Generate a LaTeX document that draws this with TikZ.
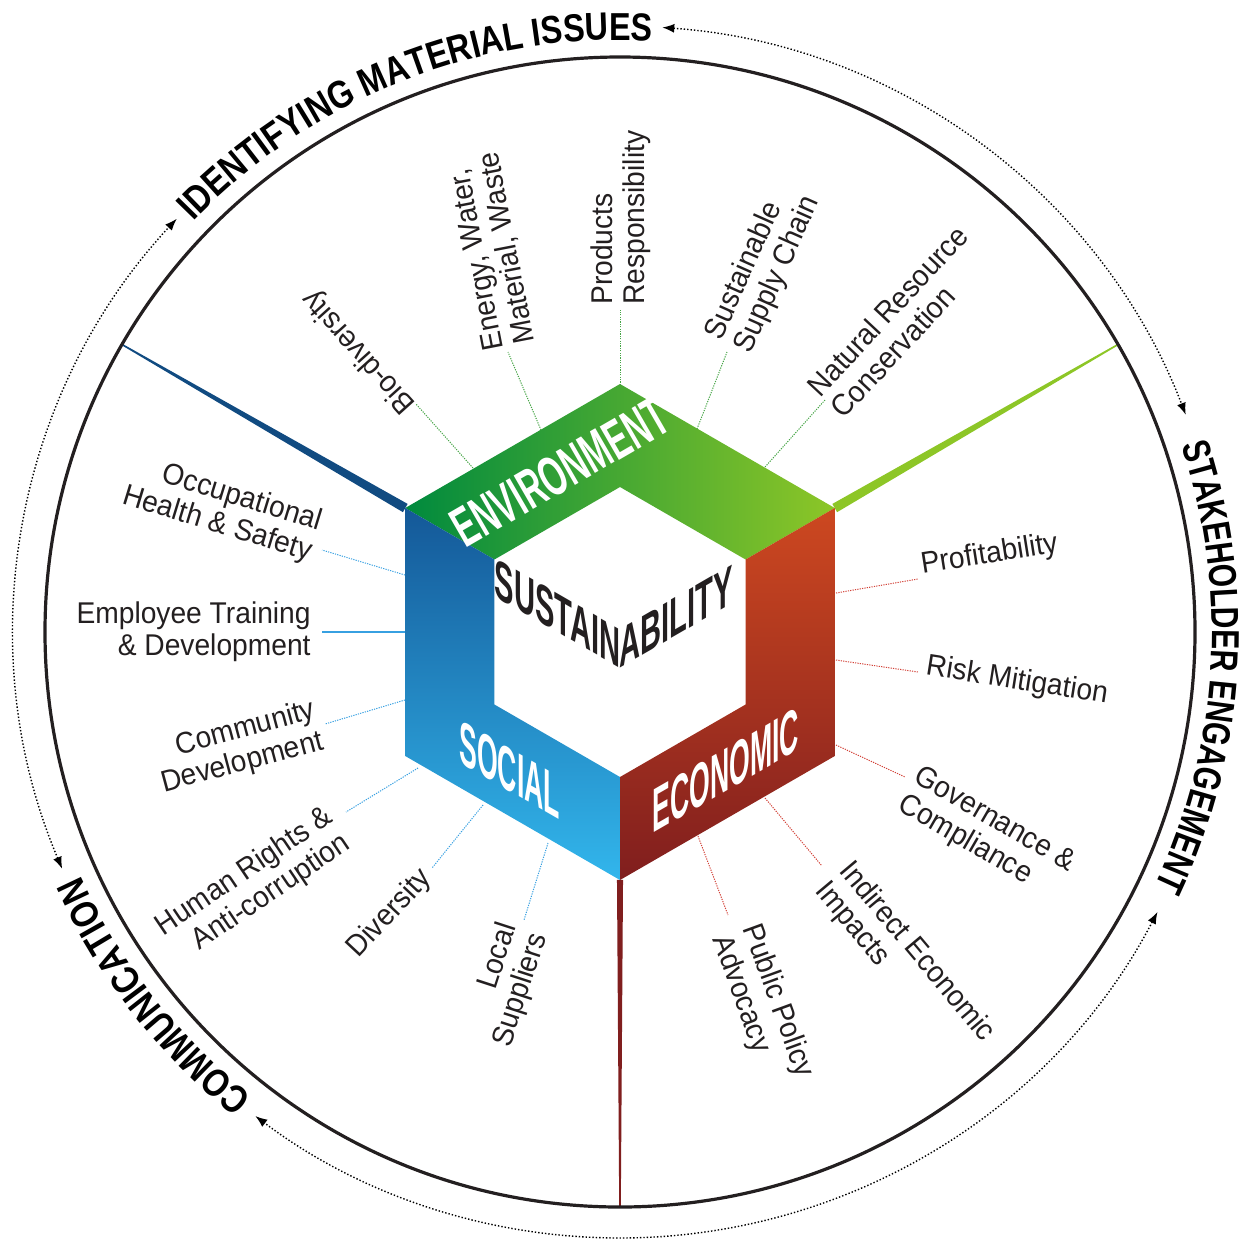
\documentclass[tikz,border=0pt]{standalone}
\usepackage{fontspec}
\setmainfont{Liberation Sans}
\newfontfamily\labfont{Liberation Sans}[FakeStretch=0.94]
\newfontfamily\hexfont{Liberation Sans}[FakeStretch=0.43]
\newfontfamily\susfont{Liberation Sans}[FakeStretch=0.52]
\newfontfamily\envfont{Liberation Sans}[FakeStretch=0.58]
\newfontfamily\arcfont{Liberation Sans}[FakeStretch=0.83]
\newfontfamily\arcfontb{Liberation Sans}[FakeStretch=0.77]
\usetikzlibrary{arrows.meta,decorations.text}

\definecolor{gdark}{RGB}{0,138,62}
\definecolor{glight}{RGB}{141,198,39}
\definecolor{bdark}{RGB}{20,88,152}
\definecolor{blight}{RGB}{50,182,236}
\definecolor{rtop}{RGB}{205,72,32}
\definecolor{rbot}{RGB}{128,30,30}
\definecolor{gline}{RGB}{70,165,70}
\definecolor{bline}{RGB}{55,160,225}
\definecolor{rline}{RGB}{210,65,55}
\definecolor{ink}{RGB}{35,31,32}

\tikzset{
 lab/.style={font=\labfont\fontsize{15}{16}\selectfont, text=ink, inner sep=0pt},
 labL/.style={lab, anchor=east, align=right},
 labR/.style={lab, anchor=west, align=left},
 gleader/.style={gline, line width=0.5pt, dash pattern=on 0.6pt off 0.6pt},
 bleader/.style={bline, line width=0.5pt, dash pattern=on 0.6pt off 0.6pt},
 rleader/.style={rline, line width=0.5pt, dash pattern=on 0.6pt off 0.6pt},
 hexlab/.style={font=\hexfont\bfseries\fontsize{31}{31}\selectfont, text=white, inner sep=0pt},
 envlab/.style={font=\envfont\bfseries\fontsize{28}{28}\selectfont, text=white, inner sep=0pt},
 suslab/.style={font=\susfont\bfseries\fontsize{28}{28}\selectfont, text=ink, inner sep=0pt},
 dotarc/.style={line width=0.7pt, dash pattern=on 0.7pt off 1pt,
   arrows={Latex[length=6pt,width=4.5pt]-Latex[length=6pt,width=4.5pt]}},
 arctext/.style={decorate, decoration={text along path, text align=center,
   text={|\arcfont\bfseries\fontsize{19.5}{20}\selectfont|#1}}},
 arctextb/.style={decorate, decoration={text along path, text align=center,
   text={|\arcfontb\bfseries\fontsize{19.5}{20}\selectfont|#1}}}
}

\begin{document}
\begin{tikzpicture}[x=0.5pt,y=0.5pt]
\useasboundingbox (0,0) rectangle (1242,-1238);

% spokes
\begin{scope}[shift={(620,-632)}]
\fill[bdark!85!black] (151.1:248) -- (150.08:575) -- (149.92:575) -- (148.9:248) -- cycle;
\fill[glight] (31.1:248) -- (30.08:575) -- (29.92:575) -- (28.9:248) -- cycle;
\fill[rbot] (-89.3:248) -- (-89.92:575) -- (-90.08:575) -- (-90.7:248) -- cycle;
\foreach \a in {90,30,-30,-90,-150,150}{
  \coordinate (o\a) at (\a:248);
  \coordinate (i\a) at (\a:145);
}
\end{scope}

% main circle
\draw[line width=1.6pt, ink] (620,-632) circle[radius=575];

% hexagon bands
\shade[left color=gdark, right color=glight] (o150) -- (o90) -- (o30) -- (i30) -- (i90) -- (i150) -- cycle;
\shade[top color=bdark, bottom color=blight] (o150) -- (i150) -- (i-150) -- (i-90) -- (o-90) -- (o-150) -- cycle;
\shade[top color=rtop, bottom color=rbot] (o30) -- (o-30) -- (o-90) -- (i-90) -- (i-30) -- (i30) -- cycle;

% hexagon texts
\node[envlab, rotate=30] (env) at (560,-472) {ENVIRONMENT};
\node[hexlab, yslant=-0.577, anchor=base west] (soc) at (459,-762) {SOCIAL};
\node[hexlab, yslant=0.577, anchor=base west] (eco) at (652,-834) {ECONOMIC};
\node[suslab, yslant=-0.577, anchor=base east] (sus1) at (621,-669) {SUSTAIN};
\node[suslab, yslant=0.577, anchor=base west] (sus2) at (619,-669) {ABILITY};

% leader coordinates
\coordinate (gs1) at (473,-468); \coordinate (ge1) at (416,-404);
\coordinate (gs2) at (541,-430); \coordinate (ge2) at (508,-352);
\coordinate (gs3) at (620,-385); \coordinate (ge3) at (620,-310);
\coordinate (gs4) at (697,-429); \coordinate (ge4) at (727,-352);
\coordinate (gs5) at (765,-467); \coordinate (ge5) at (825,-400);
\coordinate (bs1) at (405,-575); \coordinate (be1) at (322,-550);
\coordinate (bs2) at (405,-632); \coordinate (be2) at (322,-632);
\coordinate (bs3) at (405,-700); \coordinate (be3) at (325,-724);
\coordinate (bs4) at (418,-768); \coordinate (be4) at (346,-812);
\coordinate (bs5) at (483,-805); \coordinate (be5) at (432,-868);
\coordinate (bs6) at (548,-843); \coordinate (be6) at (524,-920);
\coordinate (rs1) at (836,-593); \coordinate (re1) at (918,-579);
\coordinate (rs2) at (836,-660); \coordinate (re2) at (918,-672);
\coordinate (rs3) at (836,-745); \coordinate (re3) at (905,-777);
\coordinate (rs4) at (765,-798); \coordinate (re4) at (822,-866);
\coordinate (rs5) at (698,-836); \coordinate (re5) at (728,-915);

\foreach \i in {1,...,5}{\draw[gleader] (gs\i) -- (ge\i);}
\foreach \i in {1,3,4,5,6}{\draw[bleader] (bs\i) -- (be\i);}
\draw[bline, line width=0.6pt] (bs2) -- (be2);
\foreach \i in {1,...,5}{\draw[rleader] (rs\i) -- (re\i);}

% environment labels
\node[labR, rotate=132] (bio) at (411,-409) {Bio-diversity};
\node[labR, rotate=101] (ene) at (511,-347) {Energy, Water,\\Material, Waste};
\node[labR, rotate=90] (prod) at (621,-305) {Products\\Responsibility};
\node[labR, rotate=66] (sup) at (729,-345) {Sustainable\\Supply Chain};
\node[labR, rotate=47] (nat) at (824,-402) {Natural Resource\\Conservation};

% social labels
\node[labL, rotate=-17] (occ) at (316,-538) {Occupational\\Health \& Safety};
\node[labL] (emp) at (311,-632) {Employee Training\\\& Development};
\node[labL, rotate=15] (com) at (319,-726) {Community\\Development};
\node[labL, rotate=34] (hum) at (339,-828) {Human Rights \&\\Anti-corruption};
\node[labL, rotate=47] (div) at (427,-874) {Diversity};
\node[labL, rotate=72] (loc) at (524,-929) {Local\\Suppliers};

% economic labels
\node[labR, rotate=9] (pro) at (921,-566) {Profitability};
\node[labR, rotate=-9] (risk) at (926,-667) {Risk Mitigation};
\node[labR, rotate=-30] (gov) at (908,-789) {Governance \&\\Compliance};
\node[labR, rotate=-50] (ind) at (832,-876) {Indirect Economic\\Impacts};
\node[labR, rotate=-70] (pub) at (735,-931) {Public Policy\\Advocacy};

% outer curved labels
\path[shift={(620,-632)}, arctext={IDENTIFYING MATERIAL ISSUES}] (160:592) arc[start angle=160, end angle=63, radius=592];
\path[shift={(620,-632)}, arctextb={STAKEHOLDER ENGAGEMENT}] (45:592) arc[start angle=45, end angle=-52, radius=592];
\path[shift={(620,-632)}, arctext={COMMUNICATION}] (260:592) arc[start angle=260, end angle=176, radius=592];

% dotted cycle arrows
\draw[shift={(620,-632)}, dotarc] (86:606) arc[start angle=86, end angle=21, radius=606];
\draw[shift={(620,-632)}, dotarc] (-27.5:606) arc[start angle=-27.5, end angle=-127, radius=606];
\draw[shift={(620,-632)}, dotarc] (203:606) arc[start angle=203, end angle=137, radius=606];
\end{tikzpicture}
\end{document}
